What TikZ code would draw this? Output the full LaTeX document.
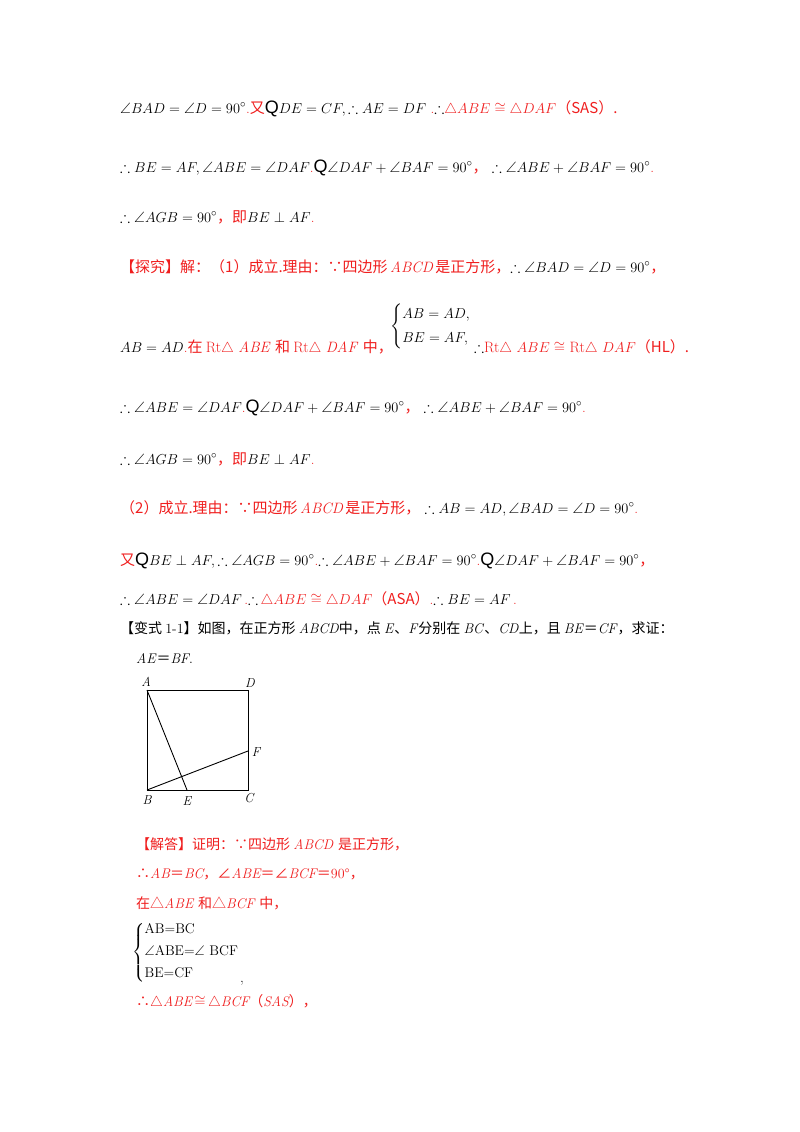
\documentclass[tikz,border=0pt]{standalone}
\usepackage{fontspec}
\usepackage{amsmath,amssymb}
\newfontfamily\zh{Noto Sans CJK SC}
\newfontfamily\sfQ{Liberation Sans}
\definecolor{rd}{RGB}{240,30,30}
\newcommand{\R}[1]{\textcolor{rd}{#1}}
\newcommand{\Qs}{{\sfQ\fontsize{18}{18}\selectfont Q}}
\newcommand{\cz}{\mathrel{\cong}}
\begin{document}
\begin{tikzpicture}[x=1pt,y=-1pt,
  ln/.style={anchor=base west,inner sep=0pt,font=\fontsize{15}{18}\selectfont},
  lbl/.style={inner sep=0pt,font=\fontsize{13}{13}\selectfont\itshape},
  edge/.style={line width=0.9pt}]
\useasboundingbox[fill=white] (0,0) rectangle (800,1132);
\node[ln] (l1) at (120,113) {$\angle BAD=\angle D=90^\circ$\R{.\zh 又}\Qs$DE=CF,\therefore AE=DF$ \R{.}$\therefore$\R{$\triangle ABE\cz\triangle DAF$\zh（SAS）.}};
\node[ln] (l2) at (120,172) {$\therefore BE=AF,\angle ABE=\angle DAF$\R{.}\Qs$\angle DAF+\angle BAF=90^\circ$\R{\zh ，}\;$\therefore \angle ABE+\angle BAF=90^\circ$\R{.}};
\node[ln] (l3) at (120,222) {$\therefore \angle AGB=90^\circ$\R{\zh ，即}$BE\perp AF$\R{.}};
\node[ln] (l4) at (120,272) {\R{\zh 【探究】解：（1）成立.理由：∵四边形\,\rmfamily\itshape ABCD\,\zh 是正方形，}$\therefore \angle BAD=\angle D=90^\circ$\R{\zh ，}};
\node[ln] (l5) at (120,352) {$AB=AD$\R{.\zh 在 \rmfamily Rt$\triangle$ \textit{ABE} \zh 和 \rmfamily Rt$\triangle$ \textit{DAF} \zh 中，}};
\node[ln] (l5b) at (390,330) {$\begin{cases}AB=AD,\\[2pt] BE=AF,\end{cases}$};
\node[ln] (l5c) at (474,352) {$\therefore$\R{Rt$\triangle$ $ABE\cz$ Rt$\triangle$ $DAF$\zh （HL）.}};
\node[ln] (l6) at (120,412) {$\therefore \angle ABE=\angle DAF$\R{.}\Qs$\angle DAF+\angle BAF=90^\circ$\R{\zh ，}\;$\therefore \angle ABE+\angle BAF=90^\circ$\R{.}};
\node[ln] (l7) at (120,464) {$\therefore \angle AGB=90^\circ$\R{\zh ，即}$BE\perp AF$\R{.}};
\node[ln] (l8) at (120,513) {\R{\zh （2）成立.理由：∵四边形\,\rmfamily\itshape ABCD\,\zh 是正方形，}\;$\therefore AB=AD,\angle BAD=\angle D=90^\circ$\R{.}};
\node[ln] (l9) at (120,565) {\R{\zh 又}\Qs$BE\perp AF,\therefore \angle AGB=90^\circ$\R{.}$\therefore \angle ABE+\angle BAF=90^\circ$\R{.}\Qs$\angle DAF+\angle BAF=90^\circ$\R{\zh ，}};
\node[ln] (l10) at (120,604) {$\therefore \angle ABE=\angle DAF$\,\R{.}$\therefore$\,\R{$\triangle ABE\cz\triangle DAF$\zh （ASA）}\R{.}$\therefore BE=AF$\,\R{.}};
\node[ln,font=\fontsize{14}{16}\selectfont] (l11) at (120,633) {{\zh 【变式 }1-1{\zh 】如图，在正方形 }\textit{ABCD}{\zh 中，点 }\textit{E}{\zh 、}\textit{F}{\zh 分别在 }\textit{BC}{\zh 、}\textit{CD}{\zh 上，且 }\textit{BE}{\zh ＝}\textit{CF}{\zh ，求证：}};
\node[ln,font=\fontsize{14}{16}\selectfont] (l12) at (136,663) {\textit{AE}{\zh ＝}\textit{BF}.};
% figure
\coordinate (A) at (147,690); \coordinate (D) at (248,690);
\coordinate (C) at (248,790); \coordinate (B) at (147,790);
\coordinate (E) at (187,790); \coordinate (F) at (248,751);
\draw[edge] (A) -- (D) -- (C) -- (B) -- cycle;
\draw[edge] (A) -- (E); \draw[edge] (B) -- (F);
\node[lbl] (la) at (146,682) {A}; \node[lbl] (ld) at (250,683) {D};
\node[lbl] (lb) at (147,800) {B}; \node[lbl] (lc) at (249,798) {C};
\node[lbl] (le) at (187,801) {E}; \node[lbl] (lf) at (256,752) {F};
% answer
\node[ln,font=\fontsize{14}{16}\selectfont] (a1) at (136,849) {\R{\zh 【解答】证明：∵四边形 \rmfamily\itshape ABCD \zh 是正方形，}};
\node[ln,font=\fontsize{14}{16}\selectfont] (a2) at (136,878) {\R{\zh ∴\rmfamily\itshape AB\zh ＝\rmfamily\itshape BC\zh ，∠\rmfamily\itshape ABE\zh ＝∠\rmfamily\itshape BCF\upshape\zh ＝\rmfamily 90°\zh ，}};
\node[ln,font=\fontsize{14}{16}\selectfont] (a3) at (136,908) {\R{\zh 在△\rmfamily\itshape ABE \zh 和△\rmfamily\itshape BCF \zh 中，}};
\node[ln,font=\fontsize{14}{16}\selectfont] (a4) at (132,956) {$\left\{\begin{array}{@{}l@{}}\text{AB=BC}\\[6pt] \angle\text{ABE=}\angle\text{ BCF}\\[6pt] \text{BE=CF}\end{array}\right.$};
\node[ln] (a4c) at (240,982) {,};
\node[ln,font=\fontsize{14}{16}\selectfont] (a5) at (136,1006) {\R{\zh ∴\rmfamily$\triangle$\itshape ABE\upshape$\,\cz\,$$\triangle$\itshape BCF\zh （\rmfamily\itshape SAS\zh ），}};
\end{tikzpicture}
\end{document}
